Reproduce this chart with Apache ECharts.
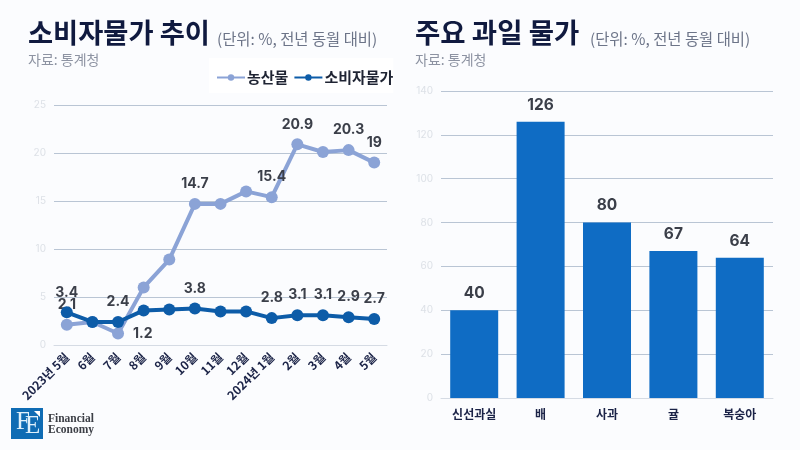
<!DOCTYPE html>
<html>
<head>
<meta charset="utf-8">
<script src="https://cdn.jsdelivr.net/npm/echarts@6/dist/echarts.min.js"></script>
<style>
html,body{margin:0;padding:0;background:#fbfcfe;}
#chart{width:800px;height:450px;}
</style>
</head>
<body>
<div id="chart"></div>
<script>
var months = ['2023년 5월','6월','7월','8월','9월','10월','11월','12월','2024년 1월','2월','3월','4월','5월'];
var farmValues = [2.1,2.4,1.2,6,8.9,14.7,14.7,16,15.4,20.9,20.1,20.3,19];
var cpiValues = [3.4,2.4,2.4,3.6,3.7,3.8,3.5,3.5,2.8,3.1,3.1,2.9,2.7];
var fruits = ['신선과실','배','사과','귤','복숭아'];
var fruitValues = [40,126,80,67,64];
// which points carry a label
var farmLabeled = [0,2,5,8,9,11,12];
var cpiLabeled = [0,2,5,8,9,10,11,12];

var FONT = '"Noto Sans CJK KR","Noto Sans",sans-serif';

function buildPoints(values, labeled){
    return values.map(function(v,i){
        var on = labeled.indexOf(i) >= 0;
        var right = values === farmValues && i === 2;
        return {
            value: v,
            label: {show: on, position: right ? 'right' : 'top', distance: right ? 9 : 7}
        };
    });
}

function textBlock(x, y, text, size, weight, color){
    return {type:'text', left:x, top:y, silent:true, z:10,
        style:{text:text, font:weight+' '+size+'px '+FONT, fill:color}};
}

var numLabel = {fontFamily:'Inter,'+FONT, fontWeight:700, fontSize:14, color:'#3b3f49'};
var gridLine = {show:true, lineStyle:{color:'#b9c5d4', width:1}};
var yLabel = {color:'#dde1e7', fontSize:10, fontFamily:'Inter,'+FONT, margin:8};

var myChart = echarts.init(document.getElementById('chart'));
var option = {
    backgroundColor:'#fbfcfe',
    animation:false,
    legend:{
        data:['농산물','소비자물가'],
        left:209, top:58, width:186, height:38,
        padding:[12,0,8,7],
        itemGap:5, itemWidth:28, itemHeight:8,
        backgroundColor:'#ffffff',
        textStyle:{fontFamily:FONT, fontSize:15, fontWeight:'bold', color:'#1f2433', padding:[0,0,0,-3]}
    },
    grid:[
        {left:54, top:105, width:333, height:240},
        {left:441, top:91, width:332, height:307}
    ],
    xAxis:[
        {type:'category', gridIndex:0, data:months,
            axisLine:{lineStyle:{color:'#d5dbe4'}}, axisTick:{show:false},
            axisLabel:{interval:0, rotate:45, fontFamily:FONT, fontWeight:'bold', fontSize:12, color:'#1b2347', margin:10}},
        {type:'category', gridIndex:1, data:fruits,
            axisLine:{lineStyle:{color:'#d5dbe4'}}, axisTick:{show:false},
            axisLabel:{interval:0, fontFamily:FONT, fontWeight:'bold', fontSize:12, color:'#1b2347', margin:10}}
    ],
    yAxis:[
        {type:'value', gridIndex:0, min:0, max:25, interval:5,
            axisLine:{show:false}, axisTick:{show:false}, axisLabel:yLabel, splitLine:gridLine},
        {type:'value', gridIndex:1, min:0, max:140, interval:20,
            axisLine:{show:false}, axisTick:{show:false}, axisLabel:yLabel, splitLine:gridLine}
    ],
    series:[
        {name:'농산물', type:'line', xAxisIndex:0, yAxisIndex:0,
            data:buildPoints(farmValues, farmLabeled),
            symbol:'circle', symbolSize:12, lineStyle:{width:4, color:'#8ba3d6'},
            itemStyle:{color:'#8ba3d6'}, label:numLabel, z:2},
        {name:'소비자물가', type:'line', xAxisIndex:0, yAxisIndex:0,
            data:buildPoints(cpiValues, cpiLabeled),
            symbol:'circle', symbolSize:12, lineStyle:{width:4, color:'#0d5ca8'},
            itemStyle:{color:'#0d5ca8'}, label:numLabel, z:3},
        {name:'과일', type:'bar', xAxisIndex:1, yAxisIndex:1,
            data:fruitValues, barWidth:48,
            itemStyle:{color:'#0f6cc4'},
            label:{show:true, position:'top', distance:9, fontFamily:'Inter,'+FONT, fontWeight:700, fontSize:15.5, color:'#3b3f49'}}
    ],
    graphic:[
        textBlock(28,19,'소비자물가 추이',27.3,'bold','#101a3f'),
        textBlock(217,31,'(단위: %, 전년 동월 대비)',15.4,'normal','#6c7488'),
        textBlock(28,53,'자료: 통계청',14,'normal','#8d93a2'),
        textBlock(415,19,'주요 과일 물가',27.5,'bold','#101a3f'),
        textBlock(590,31,'(단위: %, 전년 동월 대비)',15.4,'normal','#6c7488'),
        textBlock(415,53,'자료: 통계청',14,'normal','#8d93a2'),
        {type:'rect', left:11, top:408, silent:true, shape:{width:32,height:31}, style:{fill:'#0f6cb4'}},
        {type:'polygon', silent:true, shape:{points:[[34,411],[40,411],[40,417]]}, style:{fill:'#ffffff'}},
        {type:'text', left:16, top:410, silent:true, style:{text:'F', font:'normal 25px "Liberation Serif",serif', fill:'#dff0fb'}},
        {type:'text', left:25, top:414, silent:true, style:{text:'E', font:'normal 25px "Liberation Serif",serif', fill:'#dff0fb'}},
        {type:'text', left:48, top:413, silent:true, style:{text:'Financial\nEconomy', font:'bold 11.5px "Liberation Serif",serif', fill:'#3c3f46', lineHeight:11}}
    ]
};
myChart.setOption(option);
</script>
</body>
</html>
